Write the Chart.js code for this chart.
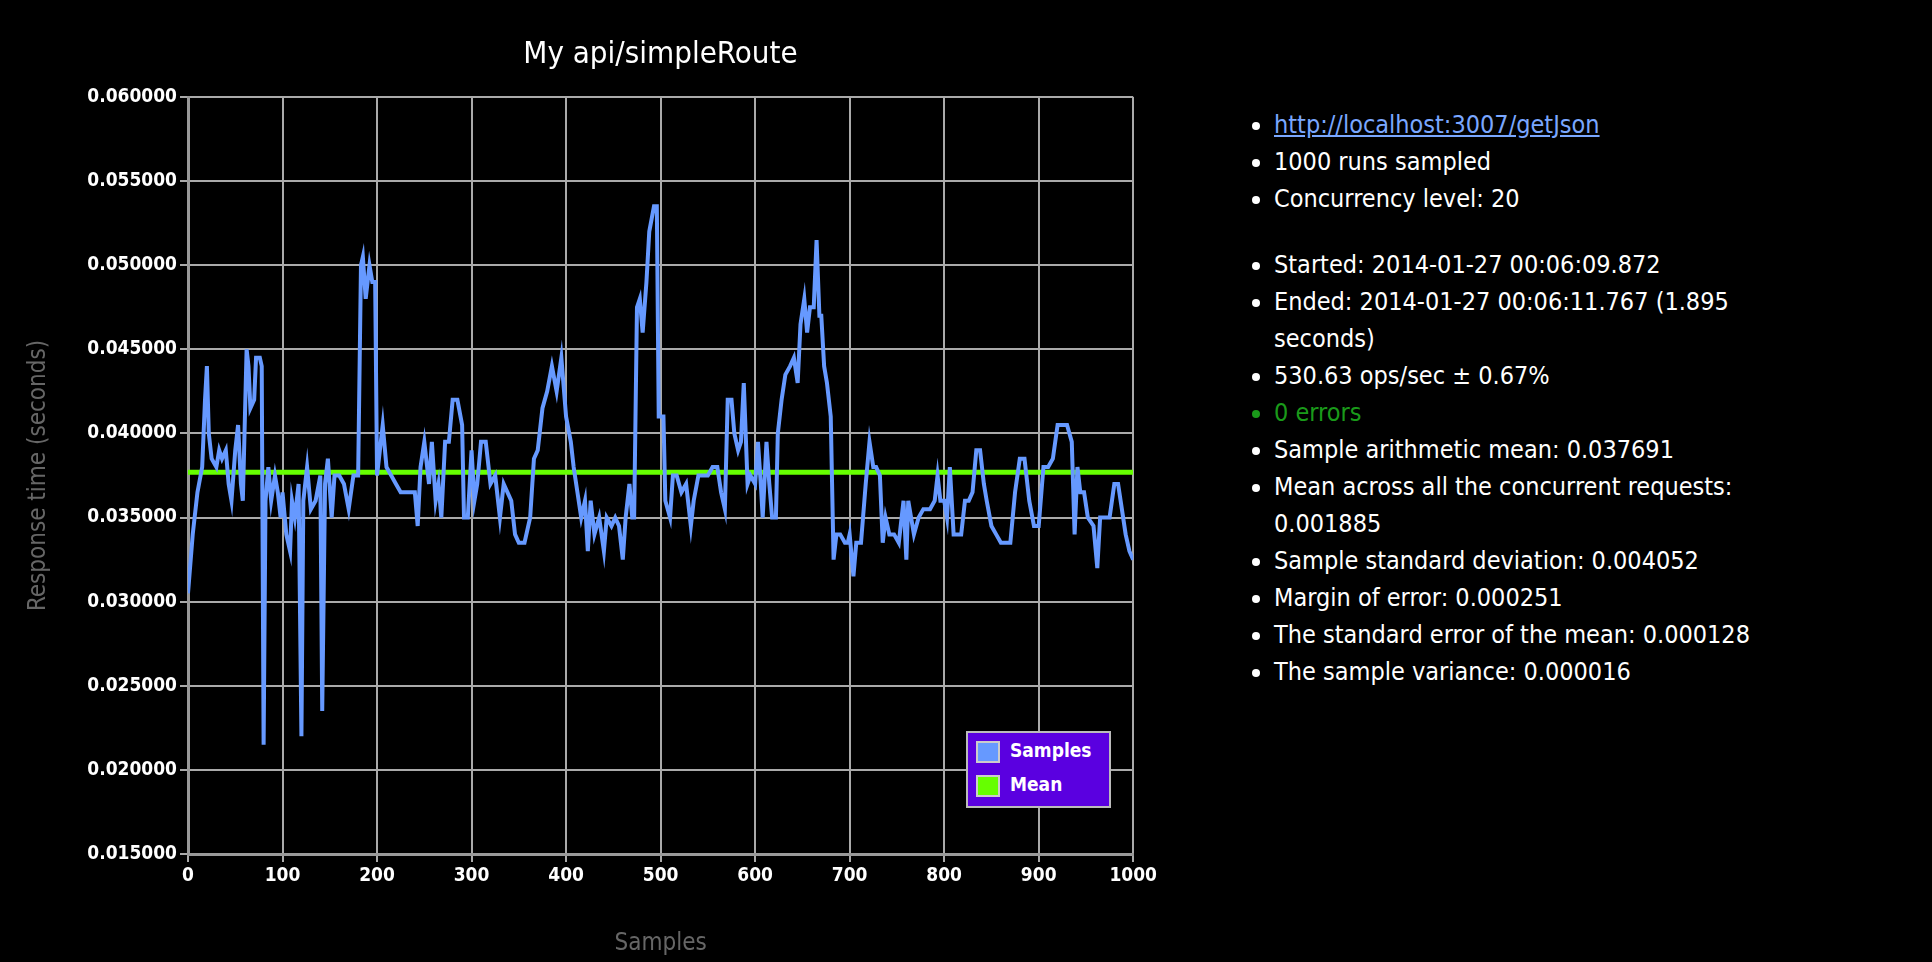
<!DOCTYPE html>
<html>
<head>
<meta charset="utf-8">
<script src="https://cdn.jsdelivr.net/npm/chart.js@4.4.1/dist/chart.umd.min.js"></script>
<style>
  body { margin: 0; background: #000; width: 1932px; height: 962px; overflow: hidden; font-family: "DejaVu Sans", sans-serif; }
  #wrap { position: absolute; left: 0; top: 0; width: 1160px; height: 962px; }
  #title { position: absolute; left: 188px; width: 945px; top: 34px; text-align: center; color: #fff; font: 31px "DejaVu Sans Condensed", "DejaVu Sans", sans-serif; }
  #legend { position: absolute; left: 966px; top: 731px; width: 141px; height: 73px; background: #5a00e0; border: 2px solid #bbb; color: #fff; font: bold 19px "DejaVu Sans Condensed", sans-serif; }
  #legend div { height: 34px; line-height: 34px; padding-left: 8px; }
  #legend span { display: inline-block; width: 24px; height: 22px; border: 2px solid #ccc; vertical-align: middle; margin-right: 10px; box-sizing: border-box; }
  ul { position: absolute; left: 1236px; top: 106px; width: 560px; margin: 0; padding-left: 38px; color: #fff; font: 25px "DejaVu Sans Condensed", "DejaVu Sans", sans-serif; line-height: 37px; }
  ul.second { top: 246px; }
  a { color: #7aa7ff; }
</style>
</head>
<body>
<div id="wrap"><canvas id="chart"></canvas></div>
<div id="title">My api/simpleRoute</div>
<div id="legend">
  <div><span style="background:#6699ff"></span>Samples</div>
  <div><span style="background:#66ff00"></span>Mean</div>
</div>
<ul>
  <li><a href="#">http://localhost:3007/getJson</a></li>
  <li>1000 runs sampled</li>
  <li>Concurrency level: 20</li>
</ul>
<ul class="second">
  <li>Started: 2014-01-27 00:06:09.872</li>
  <li>Ended: 2014-01-27 00:06:11.767 (1.895 seconds)</li>
  <li>530.63 ops/sec ± 0.67%</li>
  <li style="color:#1a9a1a">0 errors</li>
  <li>Sample arithmetic mean: 0.037691</li>
  <li>Mean across all the concurrent requests: 0.001885</li>
  <li>Sample standard deviation: 0.004052</li>
  <li>Margin of error: 0.000251</li>
  <li>The standard error of the mean: 0.000128</li>
  <li>The sample variance: 0.000016</li>
</ul>
<script>
// sample index / response time
const sampleIdx = [0,5,10,15,18,20,22,25,30,33,36,40,43,46,50,53,56,58,62,64,66,70,72,76,78,80,82,85,88,92,95,98,100,104,108,110,113,117,120,122,126,130,135,140,142,145,148,152,155,160,165,170,175,180,183,185,188,192,195,198,200,203,206,210,215,220,225,230,235,240,243,246,250,255,258,262,265,268,272,276,280,285,290,292,296,300,303,306,310,315,320,325,330,334,338,342,346,350,356,362,366,370,375,380,385,390,395,400,405,408,412,416,420,423,426,430,435,440,443,448,452,456,460,463,467,470,472,475,478,481,485,488,493,496,498,503,505,510,513,517,522,527,532,535,540,545,550,555,560,564,568,571,575,578,582,585,588,592,595,600,603,606,608,612,615,618,622,624,628,632,637,641,645,648,652,655,658,662,665,668,670,673,676,680,683,686,690,695,698,700,704,707,712,717,721,725,728,732,735,738,742,747,752,757,760,762,768,773,778,785,790,793,796,800,803,806,810,813,818,822,826,830,834,838,842,845,850,855,860,865,870,875,880,885,890,895,900,905,910,915,920,925,930,935,938,941,944,948,952,958,962,965,970,975,980,984,988,992,996,1000];
const sampleTime = [0.0305,0.034,0.0365,0.038,0.042,0.044,0.040,0.0385,0.038,0.039,0.0385,0.039,0.037,0.036,0.039,0.0405,0.037,0.036,0.045,0.044,0.0415,0.042,0.0445,0.0445,0.044,0.0215,0.036,0.038,0.036,0.0375,0.0365,0.035,0.0365,0.034,0.033,0.036,0.035,0.037,0.022,0.036,0.038,0.0355,0.036,0.0375,0.0235,0.037,0.0385,0.035,0.0375,0.0375,0.037,0.0355,0.0375,0.0375,0.050,0.0505,0.048,0.050,0.049,0.049,0.0375,0.039,0.0405,0.038,0.0375,0.037,0.0365,0.0365,0.0365,0.0365,0.0345,0.038,0.0395,0.037,0.0395,0.036,0.037,0.035,0.0395,0.0395,0.042,0.042,0.0405,0.035,0.035,0.039,0.036,0.037,0.0395,0.0395,0.037,0.0375,0.035,0.037,0.0365,0.036,0.034,0.0335,0.0335,0.035,0.0385,0.039,0.0415,0.0425,0.044,0.0425,0.0445,0.041,0.0395,0.038,0.0365,0.035,0.036,0.033,0.036,0.034,0.035,0.033,0.035,0.0345,0.035,0.0345,0.0325,0.035,0.037,0.035,0.035,0.0475,0.048,0.046,0.049,0.052,0.0535,0.0535,0.041,0.041,0.036,0.035,0.0375,0.0375,0.0365,0.037,0.0345,0.036,0.0375,0.0375,0.0375,0.038,0.038,0.0365,0.0355,0.042,0.042,0.040,0.039,0.0395,0.043,0.037,0.0375,0.037,0.0395,0.037,0.035,0.0395,0.037,0.035,0.035,0.040,0.042,0.0435,0.044,0.0445,0.043,0.0465,0.048,0.046,0.0475,0.0475,0.0515,0.047,0.047,0.044,0.043,0.041,0.0325,0.034,0.034,0.0335,0.0335,0.034,0.0315,0.0335,0.0335,0.037,0.0395,0.038,0.038,0.0375,0.0335,0.035,0.034,0.034,0.0335,0.036,0.0325,0.036,0.034,0.035,0.0355,0.0355,0.036,0.0375,0.036,0.036,0.035,0.038,0.034,0.034,0.034,0.036,0.036,0.0365,0.039,0.039,0.037,0.036,0.0345,0.034,0.0335,0.0335,0.0335,0.0365,0.0385,0.0385,0.036,0.0345,0.0345,0.038,0.038,0.0385,0.0405,0.0405,0.0405,0.0395,0.034,0.038,0.0365,0.0365,0.035,0.0345,0.032,0.035,0.035,0.035,0.037,0.037,0.0355,0.034,0.033,0.0325];
const meanValue = 0.037691;
const yMin = 0.015, yMax = 0.060, yStep = 0.005;
const xMin = 0, xMax = 1000, xStep = 100;

const tickFont = { family: '"DejaVu Sans Condensed", "DejaVu Sans", sans-serif', size: 19, weight: 'bold' };
const titleFont = { family: '"DejaVu Sans Condensed", "DejaVu Sans", sans-serif', size: 24 };

new Chart(document.getElementById('chart'), {
    type: 'line',
    data: {
        datasets: [{
            label: 'Samples',
            data: sampleIdx.map((x, i) => ({ x: x, y: sampleTime[i] })),
            borderColor: '#6699ff',
            borderWidth: 4,
            pointRadius: 0,
            tension: 0
        }, {
            label: 'Mean',
            data: [{ x: xMin, y: meanValue }, { x: xMax, y: meanValue }],
            borderColor: '#66ff00',
            borderWidth: 5,
            pointRadius: 0
        }]
    },
    options: {
        responsive: true,
        maintainAspectRatio: false,
        animation: false,
        layout: { padding: { top: 97, left: 20, right: 0 } },
        plugins: { legend: { display: false }, tooltip: { enabled: false } },
        scales: {
            x: {
                type: 'linear', min: xMin, max: xMax,
                ticks: { stepSize: xStep, color: '#fff', font: tickFont, callback: v => String(v) },
                grid: { color: '#aaa', lineWidth: 2, tickLength: 8 },
                border: { color: '#999', width: 3 },
                title: { display: true, text: 'Samples', color: '#666', font: titleFont, padding: { top: 14 } },
                afterFit: s => { s.height = 108; }
            },
            y: {
                min: yMin, max: yMax,
                ticks: { stepSize: yStep, color: '#fff', font: tickFont, callback: v => v.toFixed(6) },
                grid: { color: '#aaa', lineWidth: 2, tickLength: 8 },
                border: { color: '#999', width: 3 },
                title: { display: true, text: 'Response time (seconds)', color: '#666', font: titleFont },
                afterFit: s => { s.width = 168; }
            }
        }
    }
});
</script>
</body>
</html>
